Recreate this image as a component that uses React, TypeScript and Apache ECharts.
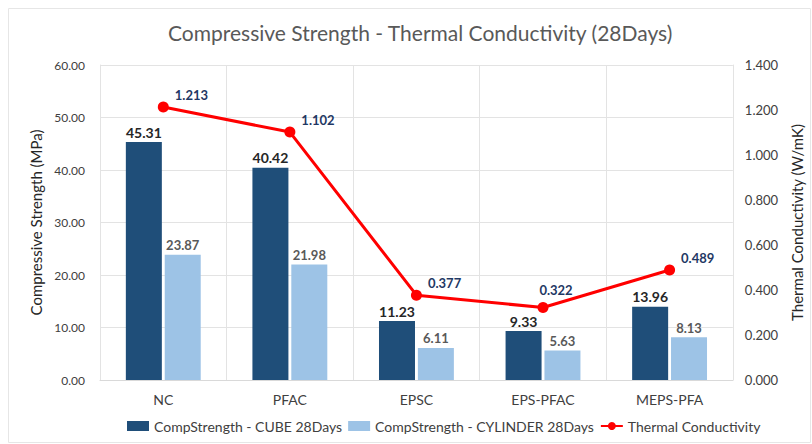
import React, { useEffect, useRef } from "react";
import * as echarts from "echarts";

const categories = ["NC", "PFAC", "EPSC", "EPS-PFAC", "MEPS-PFA"];
const cubeValues = [45.31, 40.42, 11.23, 9.33, 13.96];
const cylinderValues = [23.87, 21.98, 6.11, 5.63, 8.13];
const thermalValues = [1.213, 1.102, 0.377, 0.322, 0.489];

const FONT = "Lato, 'Open Sans', sans-serif";

export default function App() {
  const ref = useRef<HTMLDivElement>(null);
  useEffect(() => {
    if (!ref.current) return;
    const chart = echarts.init(ref.current, null, { renderer: "svg" });
    const thermalData = thermalValues.map((v, i) =>
      i === 3
        ? { value: v, label: { position: "top", distance: 6, offset: [13, 0] } }
        : v
    );
    chart.setOption({
      animation: false,
      backgroundColor: "#ffffff",
      textStyle: { fontFamily: FONT },
      title: {
        text: "Compressive Strength - Thermal Conductivity (28Days)",
        left: 163,
        top: 17,
        textStyle: { fontFamily: FONT, fontSize: 21, fontWeight: "normal", color: "#595959" },
      },
      graphic: [
        {
          type: "rect",
          shape: { x: 8.5, y: 8.5, width: 802, height: 434 },
          style: { fill: "none", stroke: "#E6E6E6", lineWidth: 1 },
          silent: true,
        },
      ],
      legend: {
        bottom: 6,
        left: 122,
        itemWidth: 22,
        itemHeight: 10,
        itemGap: 6,
        textStyle: { fontFamily: FONT, fontSize: 14, color: "#404040" },
        data: [
          { name: "CompStrength - CUBE 28Days", icon: "rect" },
          { name: "CompStrength - CYLINDER 28Days", icon: "rect" },
          { name: "Thermal Conductivity" },
        ],
      },
      grid: { left: 100, right: 79, top: 65, bottom: 64 },
      xAxis: {
        type: "category",
        data: categories,
        axisLine: { show: true, lineStyle: { color: "#D9D9D9" } },
        axisTick: { show: false },
        axisLabel: { fontFamily: FONT, fontSize: 14, color: "#404040", margin: 12 },
        splitLine: { show: true, lineStyle: { color: "#E3E3E3" } },
      },
      yAxis: [
        {
          type: "value",
          min: 0,
          max: 60,
          interval: 10,
          name: "Compressive Strength (MPa)",
          nameLocation: "middle",
          nameGap: 54,
          nameTextStyle: { fontFamily: FONT, fontSize: 15, color: "#262626" },
          axisLine: { show: true, lineStyle: { color: "#E3E3E3" } },
          axisTick: { show: false },
          axisLabel: {
            fontFamily: FONT,
            fontSize: 12,
            color: "#404040",
            margin: 15,
            formatter: (v: number) => v.toFixed(2),
          },
          splitLine: { show: true, lineStyle: { color: "#E3E3E3" } },
        },
        {
          type: "value",
          min: 0,
          max: 1.4,
          interval: 0.2,
          name: "Thermal Conductivity (W/mK)",
          nameLocation: "middle",
          nameGap: 52,
          nameRotate: 90,
          nameTextStyle: { fontFamily: FONT, fontSize: 15, color: "#262626" },
          axisLine: { show: true, lineStyle: { color: "#E3E3E3" } },
          axisTick: { show: false },
          axisLabel: {
            fontFamily: FONT,
            fontSize: 13,
            color: "#404040",
            margin: 12,
            formatter: (v: number) => v.toFixed(3),
          },
          splitLine: { show: false },
        },
      ],
      series: [
        {
          name: "CompStrength - CUBE 28Days",
          type: "bar",
          data: cubeValues,
          barWidth: 36,
          barGap: "8%",
          itemStyle: { color: "#1F4E79" },
          label: {
            show: true,
            position: "top",
            distance: 3,
            fontFamily: FONT,
            fontSize: 14,
            fontWeight: "bold",
            color: "#262626",
            formatter: (p: any) => p.value.toFixed(2),
          },
        },
        {
          name: "CompStrength - CYLINDER 28Days",
          type: "bar",
          data: cylinderValues,
          barWidth: 36,
          itemStyle: { color: "#9DC3E6" },
          label: {
            show: true,
            position: "top",
            distance: 3,
            fontFamily: FONT,
            fontSize: 13,
            fontWeight: "bold",
            color: "#595959",
            formatter: (p: any) => p.value.toFixed(2),
          },
        },
        {
          name: "Thermal Conductivity",
          type: "line",
          yAxisIndex: 1,
          data: thermalData,
          symbol: "circle",
          symbolSize: 11,
          lineStyle: { color: "#FF0000", width: 3 },
          itemStyle: { color: "#FF0000" },
          label: {
            show: true,
            position: "right",
            distance: 6,
            offset: [0, -12],
            fontFamily: FONT,
            fontSize: 13,
            fontWeight: "bold",
            color: "#1F3864",
            formatter: (p: any) => Number(p.value).toFixed(3),
          },
        },
      ],
    });
    return () => chart.dispose();
  }, []);
  return (
    <div
      ref={ref}
      style={{ position: "fixed", left: 0, top: 0, width: 812, height: 444 }}
    />
  );
}
